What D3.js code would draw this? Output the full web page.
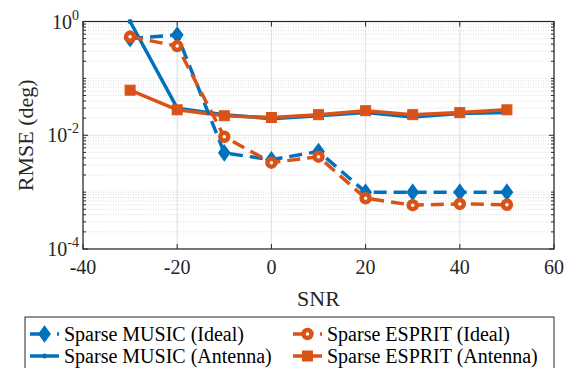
<!DOCTYPE html>
<html>
<head>
<meta charset="utf-8">
<script src="https://cdn.jsdelivr.net/npm/d3@7"></script>
<style>
  body { margin: 0; background: #fff; }
  text { font-family: "Times New Roman", "Liberation Serif", Tinos, "DejaVu Serif", "Noto Serif", serif; }
</style>
</head>
<body>
<svg id="chart"></svg>
<script>
// SNR values (x axis)
const snr = [-30, -20, -10, 0, 10, 20, 30, 40, 50];

// RMSE (deg)
const musicIdeal    = [0.50, 0.58, 0.0049, 0.0037, 0.0052, 0.0010, 0.0010, 0.0010, 0.0010];
const espritIdeal   = [0.54, 0.37, 0.0094, 0.0033, 0.0042, 0.00078, 0.00059, 0.00062, 0.00060];
const musicAntenna  = [1.0, 0.030, 0.023, 0.0196, 0.022, 0.025, 0.021, 0.024, 0.025];
const espritAntenna = [0.062, 0.028, 0.022, 0.0205, 0.023, 0.027, 0.023, 0.025, 0.028];

const xTicks = [-40, -20, 0, 20, 40, 60];
const yTicks = [1, 1e-2, 1e-4];
const yTickExp = ["0", "-2", "-4"];

const blue = "#0072BD", orange = "#D95319";

const w = 570, h = 368;
const margin = { top: 21.5, right: 16, bottom: 119, left: 83 };

const svg = d3.select("#chart").attr("width", w).attr("height", h).style("display", "block");

const x = d3.scaleLinear().domain([-40, 60]).range([margin.left, w - margin.right]);
const y = d3.scaleLog().domain([1e-4, 1]).range([h - margin.bottom, margin.top]);

const x0 = margin.left, x1 = w - margin.right, y0 = h - margin.bottom, y1 = margin.top;

// minor y grid (dotted), every 1..9 inside each decade except labelled ticks
let minorY = [];
for (let e = -4; e < 0; e++) {
  for (let m = 1; m < 10; m++) {
    const v = m * Math.pow(10, e);
    if (!yTicks.some(t => Math.abs(t - v) < v * 1e-6)) minorY.push(v);
  }
}

const grid = svg.append("g");
grid.selectAll(".ymin").data(minorY).enter().append("line")
  .attr("x1", x0).attr("x2", x1)
  .attr("y1", d => y(d)).attr("y2", d => y(d))
  .attr("stroke", "#d4d4d4").attr("stroke-width", 0.8)
  .attr("stroke-dasharray", "1,1.5");

grid.selectAll(".ymaj").data(yTicks).enter().append("line")
  .attr("x1", x0).attr("x2", x1)
  .attr("y1", d => y(d)).attr("y2", d => y(d))
  .attr("stroke", "#e3e3e3").attr("stroke-width", 1.2);

grid.selectAll(".xmaj").data(xTicks).enter().append("line")
  .attr("y1", y0).attr("y2", y1)
  .attr("x1", d => x(d)).attr("x2", d => x(d))
  .attr("stroke", "#e3e3e3").attr("stroke-width", 1.2);

// axis ticks (inward, both sides)
const axisColor = "#262626";
const ticks = svg.append("g").attr("stroke", axisColor).attr("stroke-width", 1);
xTicks.forEach(t => {
  ticks.append("line").attr("x1", x(t)).attr("x2", x(t)).attr("y1", y0).attr("y2", y0 - 5);
  ticks.append("line").attr("x1", x(t)).attr("x2", x(t)).attr("y1", y1).attr("y2", y1 + 5);
});
minorY.forEach(v => {
  ticks.append("line").attr("x1", x0).attr("x2", x0 + 3).attr("y1", y(v)).attr("y2", y(v));
  ticks.append("line").attr("x1", x1).attr("x2", x1 - 3).attr("y1", y(v)).attr("y2", y(v));
});
yTicks.forEach(v => {
  ticks.append("line").attr("x1", x0).attr("x2", x0 + 5).attr("y1", y(v)).attr("y2", y(v));
  ticks.append("line").attr("x1", x1).attr("x2", x1 - 5).attr("y1", y(v)).attr("y2", y(v));
});

// box
svg.append("rect")
  .attr("x", x0).attr("y", y1).attr("width", x1 - x0).attr("height", y0 - y1)
  .attr("fill", "none").attr("stroke", axisColor).attr("stroke-width", 1.2);

// tick labels
svg.append("g").selectAll("text").data(xTicks).enter().append("text")
  .attr("x", d => x(d)).attr("y", y0 + 25)
  .attr("text-anchor", "middle").attr("font-size", 20).attr("fill", axisColor)
  .text(d => d);

const yl = svg.append("g").selectAll("text").data(yTicks).enter().append("text")
  .attr("x", x0 - 4).attr("y", d => y(d) + 7)
  .attr("text-anchor", "end").attr("font-size", 20).attr("fill", axisColor);
yl.append("tspan").text("10");
yl.append("tspan").attr("dy", -9).attr("font-size", 14)
  .text((d, i) => yTickExp[i]);

// axis titles
svg.append("text").attr("x", (x0 + x1) / 2).attr("y", y0 + 57)
  .attr("text-anchor", "middle").attr("font-size", 22).attr("fill", axisColor)
  .text("SNR");
svg.append("text")
  .attr("transform", `translate(${x0 - 50},${(y0 + y1) / 2}) rotate(-90)`)
  .attr("text-anchor", "middle").attr("font-size", 22).attr("fill", axisColor)
  .text("RMSE (deg)");

// series
const series = [
  { name: "Sparse MUSIC (Ideal)", vals: musicIdeal, color: blue, dash: "13,7", marker: "diamond" },
  { name: "Sparse ESPRIT (Ideal)", vals: espritIdeal, color: orange, dash: "13,7", marker: "circle" },
  { name: "Sparse MUSIC (Antenna)", vals: musicAntenna, color: blue, dash: null, marker: "dot" },
  { name: "Sparse ESPRIT (Antenna)", vals: espritAntenna, color: orange, dash: null, marker: "square" }
];

const line = d3.line().x(d => x(d[0])).y(d => y(d[1]));

function drawMarker(g, kind, cx, cy, color) {
  if (kind === "diamond") {
    g.append("path")
      .attr("d", `M${cx},${cy - 7.5}L${cx + 5.5},${cy}L${cx},${cy + 7.5}L${cx - 5.5},${cy}Z`)
      .attr("fill", color).attr("stroke", color).attr("stroke-width", 1.5);
  } else if (kind === "circle") {
    g.append("circle").attr("cx", cx).attr("cy", cy).attr("r", 4)
      .attr("fill", "#fff").attr("stroke", color).attr("stroke-width", 4.5);
  } else if (kind === "square") {
    g.append("rect").attr("x", cx - 5).attr("y", cy - 5).attr("width", 10).attr("height", 10)
      .attr("fill", color).attr("stroke", color).attr("stroke-width", 1);
  } else if (kind === "dot") {
    g.append("circle").attr("cx", cx).attr("cy", cy).attr("r", 2.5).attr("fill", color);
  }
}

// draw order: antenna lines first, then ideal
const order = [2, 3, 0, 1];
const plot = svg.append("g");
order.forEach(i => {
  const s = series[i];
  const pts = snr.map((v, k) => [v, s.vals[k]]);
  plot.append("path").datum(pts).attr("d", line)
    .attr("fill", "none").attr("stroke", s.color).attr("stroke-width", 3.5)
    .attr("stroke-dasharray", s.dash);
  const mg = plot.append("g");
  pts.forEach(p => drawMarker(mg, s.marker, x(p[0]), y(p[1]), s.color));
});

// legend
const lg = svg.append("g");
lg.append("rect").attr("x", 25).attr("y", 317).attr("width", 529).attr("height", 60)
  .attr("fill", "#fff").attr("stroke", axisColor).attr("stroke-width", 1);
const legendPos = [[30, 334], [293, 334], [30, 356], [293, 356]];
series.forEach((s, i) => {
  const [lx, ly] = legendPos[i];
  lg.append("line").attr("x1", lx).attr("x2", lx + 29).attr("y1", ly).attr("y2", ly)
    .attr("stroke", s.color).attr("stroke-width", 3.5)
    .attr("stroke-dasharray", s.dash ? "15,12" : null);
  drawMarker(lg, s.marker, lx + 14.5, ly, s.color);
  lg.append("text").attr("x", lx + 34).attr("y", ly + 6.5)
    .attr("font-size", 20).attr("fill", "#000").text(s.name);
});
</script>
</body>
</html>
